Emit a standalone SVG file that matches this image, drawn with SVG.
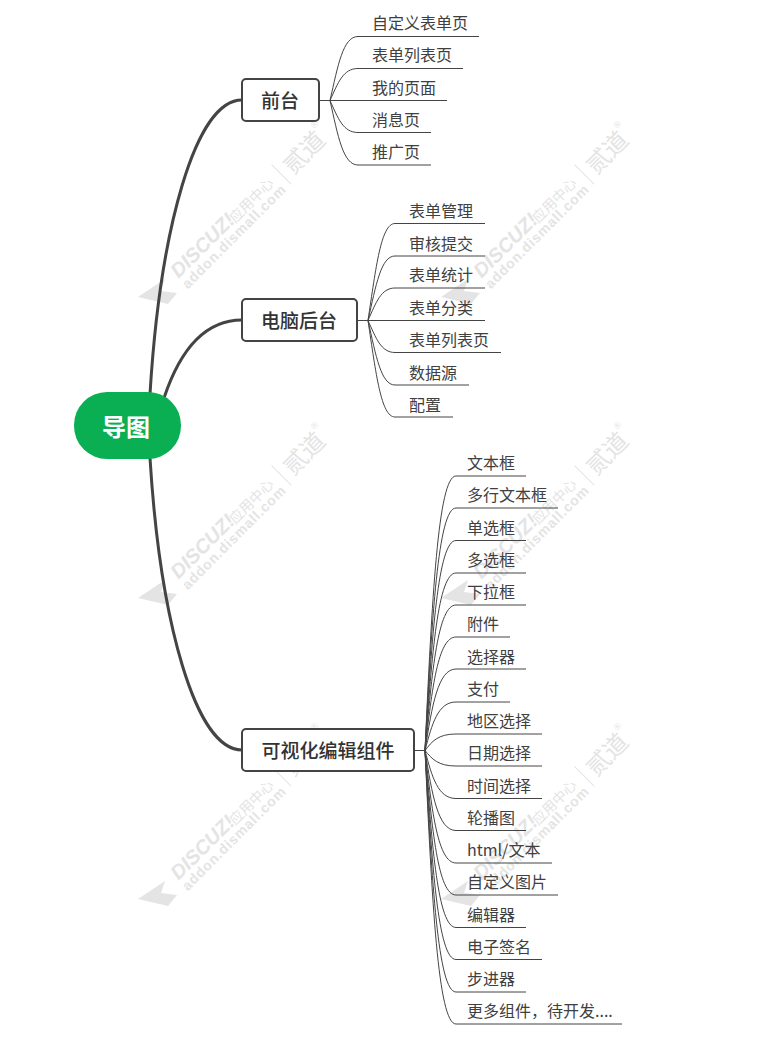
<svg xmlns="http://www.w3.org/2000/svg" width="772" height="1039" viewBox="0 0 772 1039">
<style>
text{font-family:"Noto Sans CJK SC","Noto Sans",sans-serif}
.leaf{font-size:16px;fill:#404040}
.main{font-size:19px;font-weight:500;fill:#333;text-anchor:middle}
.box{fill:#fff;stroke:#444;stroke-width:2}
.thick{fill:none;stroke:#444;stroke-width:3}
.thin{fill:none;stroke:#444;stroke-width:1}
.wm{fill:#e4e4e4}
.wl{font-family:"Liberation Sans",sans-serif}
</style>
<defs>
<g id="wm" class="wm">
<polygon points="138,297 165,279 161,291 177,293 168,304"/>
<g transform="translate(180,276) rotate(-45)">
<text class="wl" x="-3" y="1" font-size="20" font-style="italic" font-weight="700">DISCUZ!</text>
<text x="76" y="2" font-size="14">应用中心</text>
<rect x="143" y="-14" width="1" height="28"/>
<text x="151" y="9" font-size="24">贰道</text>
<text class="wl" x="199" y="-9" font-size="9">®</text>
<text class="wl" x="-4" y="15" font-size="14" font-weight="700" letter-spacing=".8">addon.dismall.com</text>
</g>
</g>
</defs>
<rect width="772" height="1039" fill="#fff"/>
<g id="watermarks">
<use href="#wm"/><use href="#wm" x="303"/>
<use href="#wm" y="301"/><use href="#wm" x="303" y="301"/>
<use href="#wm" y="602"/><use href="#wm" x="303" y="602"/>
</g>
<g id="connectors">
<path class="thick" d="M150,394C160,230 195,100 242,100"/>
<path class="thick" d="M164,398C180,350 205,320 242,320"/>
<path class="thick" d="M150,458C160,620 195,750 242,750"/>
<g class="thin">
<path d="M319,100.500H447"/>
<path d="M330,100.500C338,65.300 343,36.500 358,36.500H479"/>
<path d="M330,100.500C338,82.900 343,68.500 358,68.500H463"/>
<path d="M330,100.500C338,118.100 343,132.500 358,132.500H431"/>
<path d="M330,100.500C338,136 343,165 358,165H431"/>
<path d="M357,320.500H485"/>
<path d="M368,320.500C376,267.200 381,223.500 395,223.500H485"/>
<path d="M368,320.500C376,285 381,256 395,256H485"/>
<path d="M368,320.500C376,302.600 381,288 395,288H485"/>
<path d="M368,320.500C376,338.100 381,352.500 395,352.500H501"/>
<path d="M368,320.500C376,356 381,385 395,385H469"/>
<path d="M368,320.500C376,373.600 381,417 395,417H453"/>
<path d="M414,750.500H425"/>
<path d="M425,750.500C432,599.500 438,476 456,476H526"/>
<path d="M425,750.500C432,617.100 438,508 456,508H558"/>
<path d="M425,750.500C432,635 438,540.500 456,540.500H526"/>
<path d="M425,750.500C432,652.900 438,573 456,573H526"/>
<path d="M425,750.500C432,670.500 438,605 456,605H526"/>
<path d="M425,750.500C432,688 438,637 456,637H510"/>
<path d="M425,750.500C432,705.700 438,669 456,669H526"/>
<path d="M425,750.500C432,723.800 438,702 456,702H510"/>
<path d="M425,750.500C432,741.400 438,734 456,734H542"/>
<path d="M425,750.500C432,759 438,766 456,766H542"/>
<path d="M425,750.500C432,776.900 438,798.500 456,798.500H542"/>
<path d="M425,750.500C432,794.500 438,830.500 456,830.500H526"/>
<path d="M425,750.500C432,812.400 438,863 456,863H552"/>
<path d="M425,750.500C432,830 438,895 456,895H558"/>
<path d="M425,750.500C432,847.900 438,927.500 456,927.500H526"/>
<path d="M425,750.500C432,865.500 438,959.500 456,959.500H542"/>
<path d="M425,750.500C432,883.300 438,992 456,992H526"/>
<path d="M425,750.500C432,901 438,1024 456,1024H622"/>
</g>
</g>
<g id="root"><rect x="74" y="392" width="107" height="67" rx="33" fill="#0aaf53"/><text x="126" y="436" text-anchor="middle" font-size="24" font-weight="700" fill="#fff">导图</text></g>
<g id="n-front"><rect class="box" x="242" y="79" width="77" height="42" rx="4"/><text class="main" x="280" y="108">前台</text></g>
<g id="n-pc"><rect class="box" x="242" y="299" width="115" height="42" rx="4"/><text class="main" x="299" y="328">电脑后台</text></g>
<g id="n-comp"><rect class="box" x="242" y="729" width="172" height="42" rx="4"/><text class="main" x="328" y="758">可视化编辑组件</text></g>
<g id="leaves" class="leaf">
<text x="372" y="29">自定义表单页</text>
<text x="372" y="61">表单列表页</text>
<text x="372" y="94">我的页面</text>
<text x="372" y="126">消息页</text>
<text x="372" y="158">推广页</text>
<text x="409" y="217">表单管理</text>
<text x="409" y="250">审核提交</text>
<text x="409" y="281">表单统计</text>
<text x="409" y="314">表单分类</text>
<text x="409" y="346">表单列表页</text>
<text x="409" y="379">数据源</text>
<text x="409" y="411">配置</text>
<text x="467" y="469">文本框</text>
<text x="467" y="501">多行文本框</text>
<text x="467" y="534">单选框</text>
<text x="467" y="566">多选框</text>
<text x="467" y="598">下拉框</text>
<text x="467" y="630">附件</text>
<text x="467" y="663">选择器</text>
<text x="467" y="695">支付</text>
<text x="467" y="727">地区选择</text>
<text x="467" y="759">日期选择</text>
<text x="467" y="792">时间选择</text>
<text x="467" y="824">轮播图</text>
<text x="467" y="856">html/文本</text>
<text x="467" y="888">自定义图片</text>
<text x="467" y="921">编辑器</text>
<text x="467" y="953">电子签名</text>
<text x="467" y="985">步进器</text>
<text x="467" y="1017">更多组件，待开发....</text>
</g>
</svg>
